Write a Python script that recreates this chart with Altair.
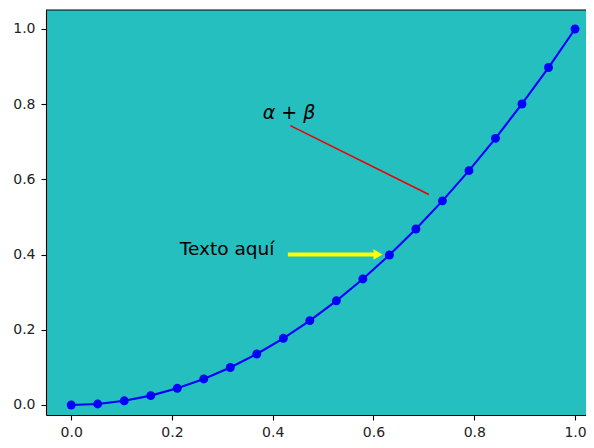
import altair as alt
import pandas as pd

# Curve values
xs = [0.0, 0.0526, 0.1053, 0.1579, 0.2105, 0.2632, 0.3158, 0.3684, 0.4211, 0.4737,
      0.5263, 0.5789, 0.6316, 0.6842, 0.7368, 0.7895, 0.8421, 0.8947, 0.9474, 1.0]
ys = [0.0, 0.0028, 0.0111, 0.0249, 0.0443, 0.0693, 0.0997, 0.1357, 0.1773, 0.2244,
      0.2770, 0.3352, 0.3989, 0.4681, 0.5429, 0.6233, 0.7091, 0.8006, 0.8975, 1.0]

tick_vals = [0.0, 0.2, 0.4, 0.6, 0.8, 1.0]

# Annotations
label_ab = ["α + β"]
label_ab_x = [0.380]
label_ab_y = [0.760]
red_x1, red_y1, red_x2, red_y2 = [0.435], [0.743], [0.710], [0.560]

label_txt = ["Texto aquí"]
label_txt_x = [0.2155]
label_txt_y = [0.399]
arrow_x1, arrow_x2, arrow_y = [0.430], [0.605], [0.400]
arrow_head_x = [0.609]

PW, PH = 540, 405

xscale = alt.Scale(domain=[-0.05, 1.0218], nice=False, zero=False)
yscale = alt.Scale(domain=[-0.0266, 1.0505], nice=False, zero=False)

curve = pd.DataFrame({"x": xs, "y": ys})

common = dict(values=tick_vals, format=".1f", title=None, grid=False,
              domain=True, domainColor="black", domainWidth=1.1,
              tickSize=5, tickWidth=1.1, tickColor="black",
              labelFontSize=14, labelFont="DejaVu Sans", labelColor="#222")
xax = alt.Axis(labelPadding=5, **common)
yax = alt.Axis(labelPadding=6, **common)

line = alt.Chart(curve).mark_line(color="#0000ff", strokeWidth=2.1).encode(
    x=alt.X("x:Q", scale=xscale, axis=xax),
    y=alt.Y("y:Q", scale=yscale, axis=yax),
)
pts = alt.Chart(curve).mark_point(filled=True, color="#0000ff", size=80, opacity=1, shape="circle").encode(
    x=alt.X("x:Q", scale=xscale),
    y=alt.Y("y:Q", scale=yscale),
)

red_df = pd.DataFrame({"x": red_x1, "y": red_y1, "x2": red_x2, "y2": red_y2})
red = alt.Chart(red_df).mark_rule(color="#ee0000", strokeWidth=1.6).encode(
    x=alt.X("x:Q", scale=xscale), y=alt.Y("y:Q", scale=yscale), x2="x2:Q", y2="y2:Q"
)

ab_df = pd.DataFrame({"x": label_ab_x, "y": label_ab_y, "t": label_ab})
ab = alt.Chart(ab_df).mark_text(align="left", baseline="alphabetic", fontSize=19,
                                 font="DejaVu Sans", fontStyle="italic", color="black").encode(
    x=alt.X("x:Q", scale=xscale), y=alt.Y("y:Q", scale=yscale), text="t:N"
)

txt_df = pd.DataFrame({"x": label_txt_x, "y": label_txt_y, "t": label_txt})
txt = alt.Chart(txt_df).mark_text(align="left", baseline="alphabetic", fontSize=18.5,
                                  font="DejaVu Sans", color="black").encode(
    x=alt.X("x:Q", scale=xscale), y=alt.Y("y:Q", scale=yscale), text="t:N"
)

arr_df = pd.DataFrame({"x": arrow_x1, "x2": arrow_x2, "y": arrow_y, "hx": arrow_head_x})
shaft = alt.Chart(arr_df).mark_rule(color="#ffff00", strokeWidth=4).encode(
    x=alt.X("x:Q", scale=xscale), x2="x2:Q", y=alt.Y("y:Q", scale=yscale)
)
head = alt.Chart(arr_df).mark_point(shape="triangle-right", filled=True, color="#ffff00",
                                    opacity=1, size=110).encode(
    x=alt.X("hx:Q", scale=xscale), y=alt.Y("y:Q", scale=yscale)
)

# top spine of the frame
top_spine = alt.Chart(pd.DataFrame({"k": [0]})).mark_rule(color="black", strokeWidth=1.1).encode(
    x=alt.value(0), x2=alt.value(PW), y=alt.value(0)
)

chart = alt.layer(red, shaft, head, line, pts, ab, txt, top_spine).properties(
    width=PW, height=PH,
    autosize=alt.AutoSizeParams(type="none"),
    padding={"left": 38, "top": 2, "right": 0, "bottom": 25},
).configure_view(fill="#26bfbf", stroke=None)

chart.save("out.html", embed_options={"renderer": "svg", "actions": False})
